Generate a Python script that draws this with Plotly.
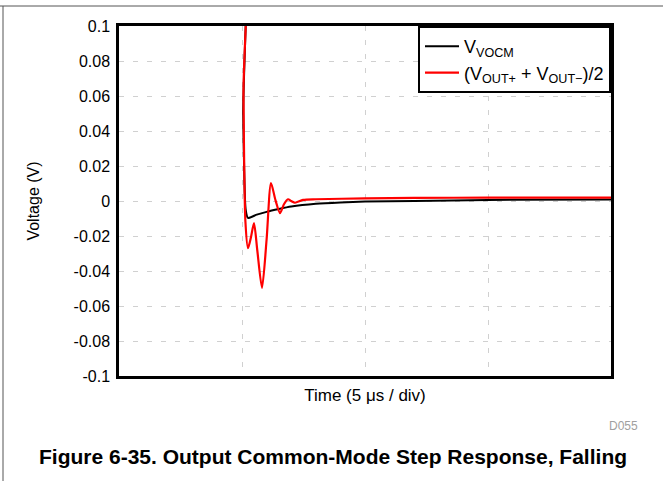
import plotly.graph_objects as go

# Time in microseconds (5 us / div, 4 divisions)
t_red = [0, 4.98, 5.06, 5.14, 5.244, 5.36, 5.488, 5.62, 5.813, 6.0, 6.179, 6.36, 6.545, 6.70, 6.870, 7.0, 7.154, 7.48, 8.0, 10, 12, 15, 20]
v_red = [0.5, 0.5, 0.06, -0.012, -0.027, -0.021, -0.0126, -0.028, -0.0497, -0.022, 0.0103, 0.0005, -0.0069, -0.002, 0.001, 0.0, -0.001, 0.0006, 0.001, 0.0015, 0.0018, 0.0019, 0.0019]

t_blk = [0, 4.99, 5.05, 5.15, 5.244, 5.6, 6.0, 6.5, 7.0, 8.0, 9.0, 10.0, 12.0, 15.0, 20.0]
v_blk = [0.5, 0.5, 0.05, -0.005, -0.0097, -0.0078, -0.0062, -0.0046, -0.0032, -0.0016, -0.0008, -0.0003, 0.0, 0.0006, 0.0009]

y_ticks = [-0.1, -0.08, -0.06, -0.04, -0.02, 0, 0.02, 0.04, 0.06, 0.08, 0.1]
y_labels = ["-0.1", "-0.08", "-0.06", "-0.04", "-0.02", "0", "0.02", "0.04", "0.06", "0.08", "0.1"]
x_ticks = [0, 5, 10, 15, 20]

FONT = "Liberation Sans, Arial, sans-serif"

fig = go.Figure()
fig.add_trace(go.Scatter(x=t_blk, y=v_blk, mode="lines", name="V<sub>VOCM</sub>",
                         line=dict(color="black", width=2, shape="spline", smoothing=0.5)))
fig.add_trace(go.Scatter(x=t_red, y=v_red, mode="lines", name="(V<sub>OUT+</sub> + V<sub>OUT\u2212</sub>)/2",
                         line=dict(color="#ff0000", width=2.2, shape="spline", smoothing=0.7)))

W, H = 663, 481
L, R, T, B = 119, 611, 26, 376

def px(x):
    return (x - L) / (R - L)

def py(y):
    return (B - y) / (B - T)

fig.update_layout(
    width=W, height=H,
    margin=dict(l=L, r=W - R, t=T, b=H - B),
    paper_bgcolor="white", plot_bgcolor="white",
    font=dict(family=FONT, size=16, color="black"),
    showlegend=True,
    legend=dict(x=1, xanchor="right", y=1, yanchor="top",
                bordercolor="black", borderwidth=2, bgcolor="white",
                font=dict(size=18, family=FONT), tracegroupgap=0,
                itemwidth=34),
    xaxis=dict(range=[0, 20], tickvals=x_ticks, showticklabels=False,
               showgrid=True, gridcolor="#d0d0d0", griddash="5px,9px", gridwidth=1,
               showline=True, linecolor="black", linewidth=2.5, mirror=True,
               zeroline=False, ticks="",
               title=dict(text="Time (5 \u03bcs / div)", font=dict(size=17, family=FONT), standoff=12)),
    yaxis=dict(range=[-0.1, 0.1], tickvals=y_ticks, ticktext=y_labels,
               showgrid=True, gridcolor="#d0d0d0", griddash="5px,9px", gridwidth=1,
               showline=True, linecolor="black", linewidth=2.5, mirror=True,
               zeroline=False, ticks="", tickfont=dict(size=16, family=FONT),
               ticklabelstandoff=3,
               title=dict(text="Voltage (V)", font=dict(size=16, family=FONT), standoff=30)),
)

# outer frame lines (top and left)
fig.add_shape(type="line", xref="paper", yref="paper", x0=px(0), x1=px(W), y0=py(6), y1=py(6),
              line=dict(color="#555555", width=1))
fig.add_shape(type="line", xref="paper", yref="paper", x0=px(3), x1=px(3), y0=py(6), y1=py(H),
              line=dict(color="#555555", width=1))

fig.add_annotation(text="D055", xref="paper", yref="paper", x=px(640), y=py(426),
                   xanchor="right", yanchor="middle", showarrow=False,
                   font=dict(size=12, color="#a0a0a0", family=FONT))
fig.add_annotation(text="<b>Figure 6-35. Output Common-Mode Step Response, Falling</b>",
                   xref="paper", yref="paper", x=px(333), y=py(457),
                   xanchor="center", yanchor="middle", showarrow=False,
                   font=dict(size=21, color="black", family=FONT))

fig.write_html("out.html", config={"displayModeBar": False},
               post_script="document.body.style.margin='0';document.body.style.padding='0';")
